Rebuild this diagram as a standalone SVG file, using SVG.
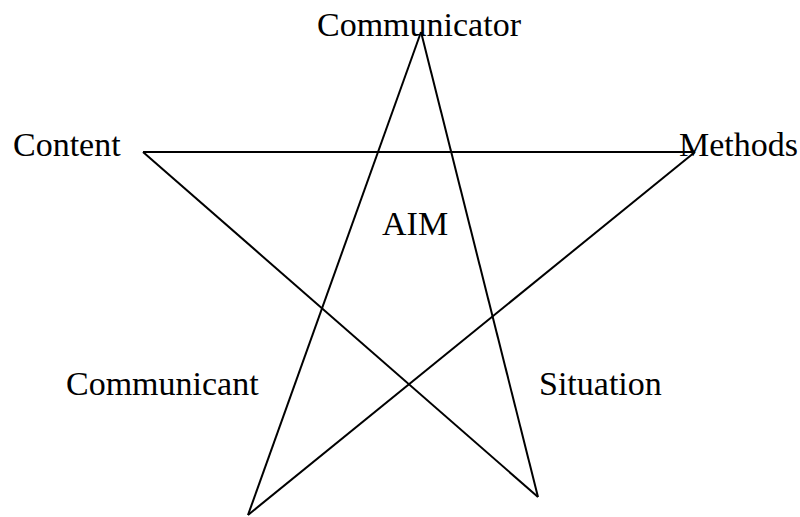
<svg xmlns="http://www.w3.org/2000/svg" width="800" height="517" viewBox="0 0 800 517">
<style>
.lbl{font-family:"Liberation Serif","Times New Roman",serif;font-size:34px;fill:#000}
.edge{stroke:#000;stroke-width:2;fill:none}
</style>
<rect width="800" height="517" fill="#fff"/>
<g id="connectors">
<line class="edge" x1="143" y1="152" x2="695" y2="152"/>
<line class="edge" x1="695" y1="152" x2="248" y2="515"/>
<line class="edge" x1="248" y1="515" x2="421" y2="32"/>
<line class="edge" x1="421" y1="32" x2="538" y2="497"/>
<line class="edge" x1="538" y1="497" x2="143" y2="152"/>
</g>
<g id="communicator"><text class="lbl" x="317" y="36">Communicator</text></g>
<g id="content"><text class="lbl" x="13" y="156">Content</text></g>
<g id="methods"><text class="lbl" x="679" y="156">Methods</text></g>
<g id="aim"><text class="lbl" x="382" y="235">AIM</text></g>
<g id="communicant"><text class="lbl" x="66" y="395">Communicant</text></g>
<g id="situation"><text class="lbl" x="539" y="395">Situation</text></g>
</svg>
